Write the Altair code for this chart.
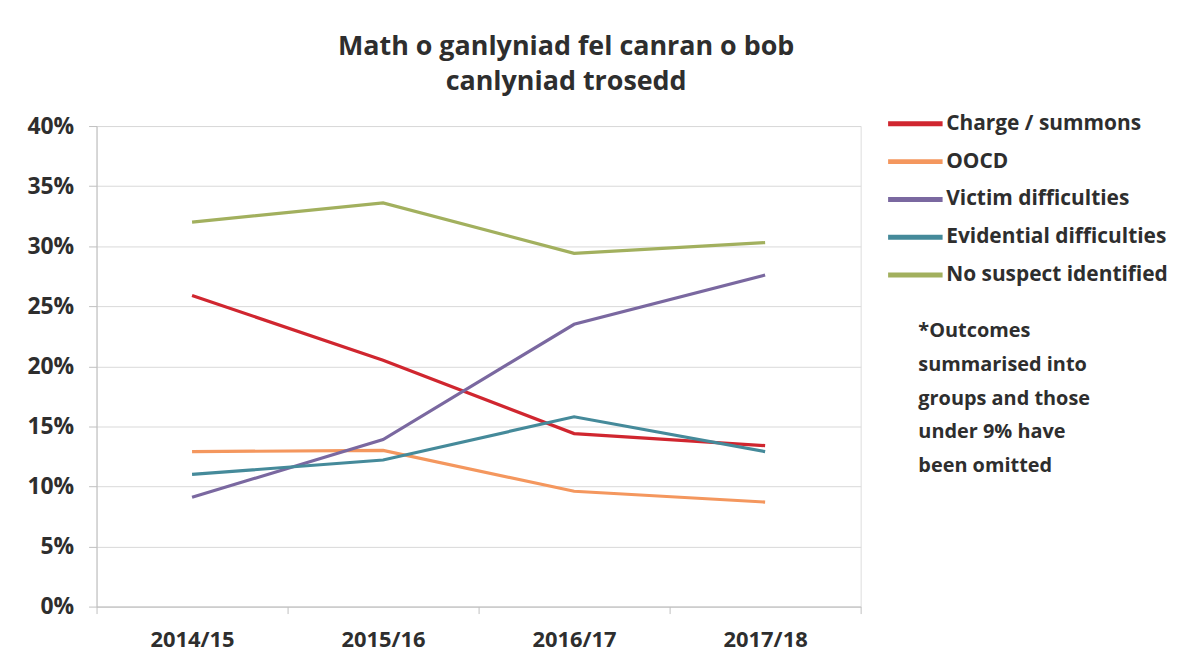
import altair as alt
import pandas as pd

years = ["2014/15", "2015/16", "2016/17", "2017/18"]
series_names = [
    "Charge / summons",
    "OOCD",
    "Victim difficulties",
    "Evidential difficulties",
    "No suspect identified",
]
charge = [25.9, 20.5, 14.4, 13.4]
oocd = [12.9, 13.0, 9.6, 8.7]
victim = [9.1, 13.9, 23.5, 27.6]
evidential = [11.0, 12.2, 15.8, 12.9]
no_suspect = [32.0, 33.6, 29.4, 30.3]
colors = ["#D0262F", "#F4975E", "#7A68A0", "#458A9A", "#A2B05E"]
y_ticks = [0, 5, 10, 15, 20, 25, 30, 35, 40]
title_lines = ["Math o ganlyniad fel canran o bob", "canlyniad trosedd"]
note_lines = [
    "*Outcomes",
    "summarised into",
    "groups and those",
    "under 9% have",
    "been omitted",
]

rows = []
for name, vals in zip(series_names, [charge, oocd, victim, evidential, no_suspect]):
    for yr, v in zip(years, vals):
        rows.append({"year": yr, "series": name, "value": v})
df = pd.DataFrame(rows)

FONT = "Open Sans"
TXT = "#2e2e2e"

lines = alt.Chart(df).mark_line(strokeWidth=3.2).encode(
    x=alt.X(
        "year:O",
        sort=years,
        bandPosition=0.5,
        scale=alt.Scale(type="band", paddingInner=0, paddingOuter=0),
        axis=alt.Axis(
            title=None,
            labelAngle=0,
            tickBand="extent",
            tickSize=7,
            tickColor="#bfbfbf",
            domainColor="#bfbfbf",
            labelFont=FONT,
            labelFontSize=22,
            labelFontWeight="bold",
            labelColor=TXT,
            labelPadding=16,
            grid=False,
        ),
    ),
    y=alt.Y(
        "value:Q",
        scale=alt.Scale(domain=[0, 40], nice=False),
        axis=alt.Axis(
            title=None,
            values=y_ticks,
            labelExpr="datum.value + '%'",
            tickSize=8,
            tickColor="#bfbfbf",
            domainColor="#bfbfbf",
            gridColor="#d9d9d9",
            labelFont=FONT,
            labelFontSize=23,
            labelFontWeight="bold",
            labelColor=TXT,
            labelPadding=15,
        ),
    ),
    color=alt.Color(
        "series:N",
        sort=series_names,
        scale=alt.Scale(domain=series_names, range=colors),
        legend=alt.Legend(
            title=None,
            orient="none",
            legendX=793,
            legendY=-21,
            symbolType="stroke",
            symbolSize=3000,
            symbolStrokeWidth=5,
            clipHeight=37.5,
            rowPadding=0,
            labelOffset=1,
            labelFont=FONT,
            labelFontSize=21,
            labelFontWeight="bold",
            labelColor=TXT,
            labelLimit=400,
        ),
    ),
)

note = alt.Chart(pd.DataFrame({"t": [0]})).mark_text(
    text=note_lines,
    align="left",
    baseline="alphabetic",
    font=FONT,
    fontSize=20,
    fontWeight="bold",
    color=TXT,
    lineHeight=34,
).encode(x=alt.value(826), y=alt.value(212))

chart = (
    alt.layer(lines, note)
    .properties(
        width=768,
        height=483,
        title=alt.TitleParams(
            text=title_lines,
            font=FONT,
            fontSize=27,
            fontWeight="bold",
            color=TXT,
            anchor="middle",
            frame="group",
            dx=88,
            offset=9,
            lineHeight=35,
        ),
        autosize="none",
        padding={"left": 89, "top": 117, "right": 320, "bottom": 45},
    )
    .configure_view(stroke=None)
    .configure(background="white")
)

chart.save("out.html", embed_options={"renderer": "svg", "actions": False})
